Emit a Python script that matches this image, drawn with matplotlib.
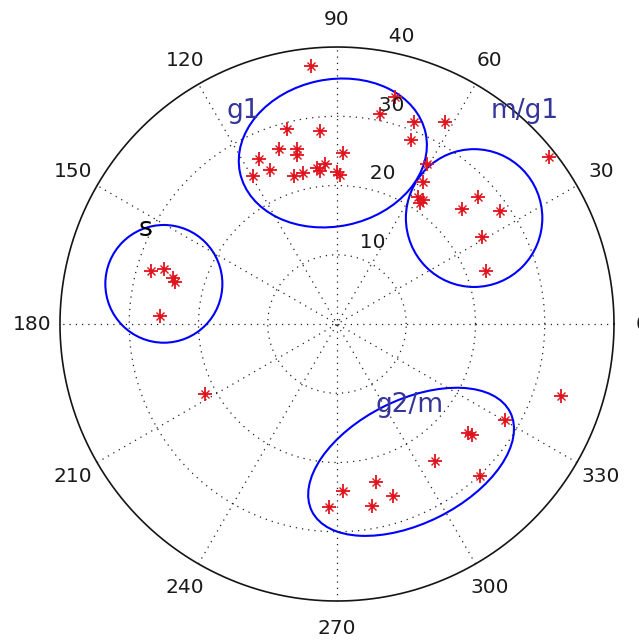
import numpy as np
import matplotlib
matplotlib.use("Agg")
import matplotlib.pyplot as plt
from matplotlib.patches import Ellipse

# angles in degrees, radii in plot units
upper_theta = [95.7, 75.7, 78.4, 69.1, 61.9, 68.1, 104.4, 95.0, 108.3, 102.9, 103.3,
               88.0, 115.3, 113.5, 119.6, 106.2, 102.7, 97.3, 96.3, 94.3, 90.0, 88.8]
upper_r = [37.5, 33.8, 31.0, 31.2, 33.1, 28.6, 29.1, 28.0, 26.6, 25.9, 25.1,
           24.7, 26.4, 24.3, 24.6, 22.3, 22.4, 22.7, 22.2, 23.2, 22.0, 21.5]

right_theta = [60.6, 58.8, 57.5, 55.3, 55.6, 38.2, 42.0, 42.6, 34.7, 31.0, 19.6]
right_r = [26.5, 24.0, 21.8, 21.8, 21.2, 39.0, 27.4, 24.5, 28.6, 24.4, 22.8]

left_theta = [164.1, 162.4, 164.3, 165.5, 177.4, 207.9]
left_r = [27.9, 26.2, 24.6, 24.2, 25.6, 21.6]

lower_theta = [342.2, 330.3, 320.2, 320.6, 305.6, 313.3, 283.9, 272.1, 288.0, 280.9, 267.5]
lower_r = [34.0, 27.9, 24.6, 25.2, 24.3, 30.1, 23.5, 24.1, 26.1, 26.8, 26.5]

r_ticks = [10, 20, 30, 40]
angle_ticks = list(range(0, 360, 30))

group_names = ["g1", "m/g1", "g2/m", "s"]

rmax = r_ticks[-1]
grid_col = "#222222"
dots = (0, (1, 4))

fig = plt.figure(figsize=(6.39, 6.42), dpi=100)
ax = fig.add_axes([0, 0, 1, 1])
ax.set_xlim(-48.66, 43.61)
ax.set_ylim(-45.92, 46.79)
ax.axis("off")

# polar grid drawn the way matlab's polar() does it
t = np.linspace(0, 2 * np.pi, 721)
for rr in r_ticks[:-1]:
    ax.plot(rr * np.cos(t), rr * np.sin(t), ls=dots, color=grid_col, lw=0.9)
ax.plot(rmax * np.cos(t), rmax * np.sin(t), color="#151515", lw=1.2)

for a in np.deg2rad(np.arange(30, 181, 30)):
    ax.plot([-rmax * np.cos(a), rmax * np.cos(a)],
            [-rmax * np.sin(a), rmax * np.sin(a)], ls=dots, color=grid_col, lw=0.9)

for a in angle_ticks:
    ar = np.deg2rad(a)
    ax.text(1.1 * rmax * np.cos(ar), 1.1 * rmax * np.sin(ar), str(a),
            ha="center", va="center", fontsize=14.5, color="#1a1a1a")

c82, s82 = np.cos(np.deg2rad(82)), np.sin(np.deg2rad(82))
for rr in r_ticks:
    ax.text((rr + 0.5) * c82, (rr + 0.5) * s82, "  " + str(rr),
            ha="left", va="bottom", fontsize=14.5, color="#1a1a1a")

# data points
theta = np.deg2rad(np.array(upper_theta + right_theta + left_theta + lower_theta))
r = np.array(upper_r + right_r + left_r + lower_r)
x = r * np.cos(theta)
y = r * np.sin(theta)
red = "#e0141e"
ax.plot(x, y, "+", color=red, ms=9.5, mew=1.3, ls="none")
ax.plot(x, y, "x", color=red, ms=5.5, mew=1.0, ls="none")
ax.plot(x, y, "o", color=red, ms=3.2, mew=0, ls="none")

# hand drawn cluster outlines
blue = "#0000ff"
ax.add_patch(Ellipse((-0.6, 24.7), 27.4, 21.2, angle=12, fill=False, ec=blue, lw=1.5))
ax.add_patch(Ellipse((19.8, 15.3), 19.7, 19.9, fill=False, ec=blue, lw=1.5))
ax.add_patch(Ellipse((-25.0, 5.8), 16.9, 17.0, fill=False, ec=blue, lw=1.5))
ax.add_patch(Ellipse((10.7, -19.9), 32.0, 17.8, angle=26.5, fill=False, ec=blue, lw=1.5))

lab_col = "#35359a"
ax.text(-13.5, 29.75, group_names[0], ha="center", va="baseline", fontsize=19, color=lab_col)
ax.text(27.15, 29.75, group_names[1], ha="center", va="baseline", fontsize=19, color=lab_col)
ax.text(10.5, -12.66, group_names[2], ha="center", va="baseline", fontsize=19, color=lab_col)
ax.text(-27.65, 12.7, group_names[3], ha="center", va="baseline", fontsize=19, color="black")

fig.savefig("out.png", dpi=100)
